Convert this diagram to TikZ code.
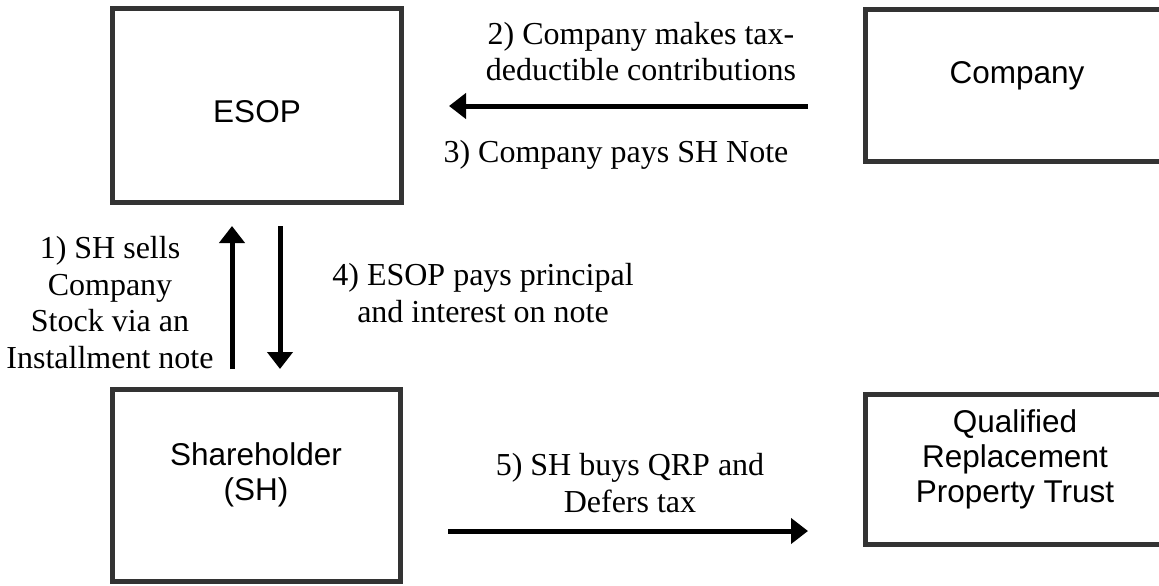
\documentclass[tikz,border=0pt]{standalone}
\usepackage{fontspec}
\setmainfont{Liberation Serif}
\newfontfamily\boxfont{Liberation Sans}
\usetikzlibrary{arrows.meta}
\definecolor{boxline}{HTML}{333333}
\begin{document}
\begin{tikzpicture}[x=1pt,y=-1pt,
  blockbox/.style={draw=boxline, line width=5pt, rectangle, inner sep=0pt},
  boxtext/.style={font=\boxfont\fontsize{31.5}{35}\selectfont, align=center, inner sep=0pt, anchor=base},
  steplabel/.style={font=\fontsize{32}{36.5}\selectfont, align=center, inner sep=0pt, anchor=base},
  flow/.style={line width=5pt, -{Triangle[width=25pt,length=17pt]}}
]
\useasboundingbox (0,0) rectangle (1159,586);
\clip (0,0) rectangle (1159,586);

% boxes
\node[blockbox, minimum width=288.5pt, minimum height=193.5pt] (esop) at (256.75,105.25) {};
\node[blockbox, minimum width=314.5pt, minimum height=151pt] (company) at (1022.75,85.5) {};
\node[blockbox, minimum width=288pt, minimum height=192pt] (sh) at (256.5,485.5) {};
\node[blockbox, minimum width=314.5pt, minimum height=150pt] (qrp) at (1022.75,469.5) {};

% box captions (base anchor sits on the last line)
\node[boxtext] (esoptext) at (257,122) {ESOP};
\node[boxtext] (companytext) at (1017,83) {Company};
\node[boxtext] (shtext) at (256,500) {Shareholder\\(SH)};
\node[boxtext] (qrptext) at (1015,502) {Qualified\\Replacement\\Property Trust};

% arrow end points
\coordinate (contribStart) at (808,106);
\coordinate (contribEnd) at (449,106);
\coordinate (sellStart) at (232,369);
\coordinate (sellEnd) at (232,226);
\coordinate (payStart) at (280,226);
\coordinate (payEnd) at (280,369);
\coordinate (buyStart) at (448,531);
\coordinate (buyEnd) at (808,531);

% arrows
\draw[flow] (contribStart) -- (contribEnd);
\draw[flow] (sellStart) -- (sellEnd);
\draw[flow] (payStart) -- (payEnd);
\draw[flow] (buyStart) -- (buyEnd);

% step labels
\node[steplabel] (stepTwo) at (641,81) {2) Company makes tax-\\deductible contributions};
\node[steplabel] (stepThree) at (616,162) {3) Company pays SH Note};
\node[steplabel] (stepOne) at (110,368) {1) SH sells\\Company\\Stock via an\\Installment note};
\node[steplabel] (stepFour) at (483,322) {4) ESOP pays principal\\and interest on note};
\node[steplabel] (stepFive) at (630,512) {5) SH buys QRP and\\Defers tax};
\end{tikzpicture}
\end{document}
